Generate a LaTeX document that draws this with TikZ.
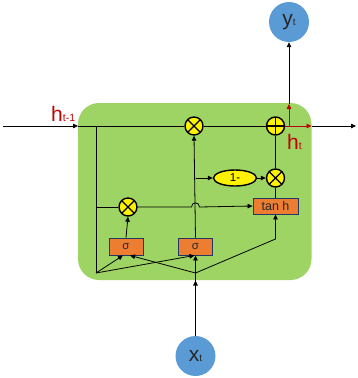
\documentclass[tikz,border=0pt]{standalone}
\usepackage{fontspec}
\setmainfont{Liberation Sans}
\usetikzlibrary{arrows.meta,shapes.geometric,calc}
\definecolor{cellgreen}{HTML}{9DD463}
\definecolor{gateorange}{HTML}{ED7D31}
\definecolor{gateborder}{HTML}{1F3864}
\definecolor{ioblue}{HTML}{5B9BD5}
\definecolor{labred}{HTML}{C00000}
\tikzset{
  arr/.style={-{Triangle[length=5pt,width=4.5pt]}, line width=0.8pt},
  ln/.style={line width=0.8pt},
  redarr/.style={-{Triangle[length=5pt,width=4.5pt]}, line width=0.8pt, draw=labred},
  opmul/.style={circle, draw, line width=1.4pt, fill=yellow, minimum size=18pt, inner sep=0pt,
    path picture={\draw[line width=1.4pt] (path picture bounding box.north west) -- (path picture bounding box.south east)
      (path picture bounding box.north east) -- (path picture bounding box.south west);}},
  opadd/.style={circle, draw, line width=1.4pt, fill=yellow, minimum size=18pt, inner sep=0pt,
    path picture={\draw[line width=1.4pt] (path picture bounding box.north) -- (path picture bounding box.south)
      (path picture bounding box.east) -- (path picture bounding box.west);}},
  gatebox/.style={rectangle, draw=gateborder, line width=0.9pt, fill=gateorange, inner sep=0pt, text=black!85},
  iocirc/.style={circle, fill=ioblue, minimum size=40pt, inner sep=0pt, text=black!85},
}
\begin{document}
\begin{tikzpicture}[x=1pt,y=-1pt]
\useasboundingbox (0,0) rectangle (358,378);
% cell
\fill[cellgreen, rounded corners=21pt] (78,103) rectangle (311.5,280);
% nodes
\node[opmul] (mul1) at (194,126) {};
\node[opadd] (add) at (275.5,126) {};
\node[opmul] (mul3) at (275.5,178) {};
\node[opmul] (mul2) at (128,207) {};
\node[ellipse, draw, line width=1.4pt, fill=yellow, minimum width=43pt, minimum height=16pt, inner sep=0pt,
      font=\fontsize{11.5}{11.5}\selectfont] (one) at (235,178) {1-};
\node[gatebox, minimum width=45pt, minimum height=16pt, font=\fontsize{12.5}{12.5}\selectfont] (tanh) at (275.5,206) {tan h};
\node[gatebox, minimum width=34pt, minimum height=17pt, font=\fontsize{11.5}{11.5}\selectfont] (sig1) at (126,246.5) {σ};
\node[gatebox, minimum width=34pt, minimum height=17pt, font=\fontsize{11.5}{11.5}\selectfont] (sig2) at (195.5,246.5) {σ};
\node[iocirc] (xt) at (195.5,356) {{\fontsize{21}{21}\selectfont x}{\fontsize{10}{10}\selectfont t}};
\node[iocirc] (yt) at (289,22) {{\fontsize{21}{21}\selectfont y}{\fontsize{10}{10}\selectfont t}};
\node[text=labred, anchor=base west, inner sep=0pt] (hin) at (51,121) {{\fontsize{21}{21}\selectfont h}{\fontsize{10.5}{10.5}\selectfont t-1}};
\node[text=labred, anchor=base west, inner sep=0pt] (hout) at (287,149) {{\fontsize{21}{21}\selectfont h}{\fontsize{10.5}{10.5}\selectfont t}};
% coordinates
\coordinate (inL) at (3,126);
\coordinate (boxL) at (78,126);
\coordinate (boxR) at (311.5,126);
\coordinate (outR) at (356,126);
\coordinate (split) at (289,126);
\coordinate (boxT) at (289,104);
\coordinate (lv) at (96,126);
\coordinate (lh) at (96,207);
\coordinate (bl) at (96,273);
\coordinate (xj) at (195.5,273);
\coordinate (boxB) at (195.5,280.5);
\coordinate (br) at (195.5,178);
\coordinate (tk) at (275.5,239);
\coordinate (hopL) at (191.5,207);
\coordinate (hopR) at (199.5,207);
% connectors
\draw[arr] (inL) -- (boxL);
\draw[ln] (boxL) -- (mul1) -- (add);
\draw[redarr] (add.east) -- (boxR);
\draw[arr] (boxR) -- (outR);
\draw[redarr] (split) -- (boxT);
\draw[arr] (boxT) -- (yt.south);
\draw[ln] (lv) -- (bl);
\draw[ln] (lh) -- (mul2.west);
\draw[arr] (mul2.east) -- (hopL) .. controls ($(hopL)+(0,-5.5)$) and ($(hopR)+(0,-5.5)$) .. (hopR) -- (tanh.west);
\draw[arr] (sig2.north) -- (mul1.south);
\draw[arr] (br) -- (one.west);
\draw[arr] (one.east) -- (mul3.west);
\draw[ln] (mul3.north) -- (add.south);
\draw[ln] (tanh.north) -- (mul3.south);
\draw[arr] (sig1.north) -- (mul2.south);
\draw[arr] (bl) -- ($(sig1.south)+(-3,0)$);
\draw[arr] (bl) -- ($(sig2.south)+(-1,0)$);
\draw[arr] (xj) -- ($(sig1.south)+(4,0)$);
\draw[arr] (xj) -- (sig2.south);
\draw[arr] (xj) -- (tk) -- (tanh.south);
\draw[arr] (xt.north) -- (boxB);
\draw[ln] (boxB) -- (xj);
\end{tikzpicture}
\end{document}
